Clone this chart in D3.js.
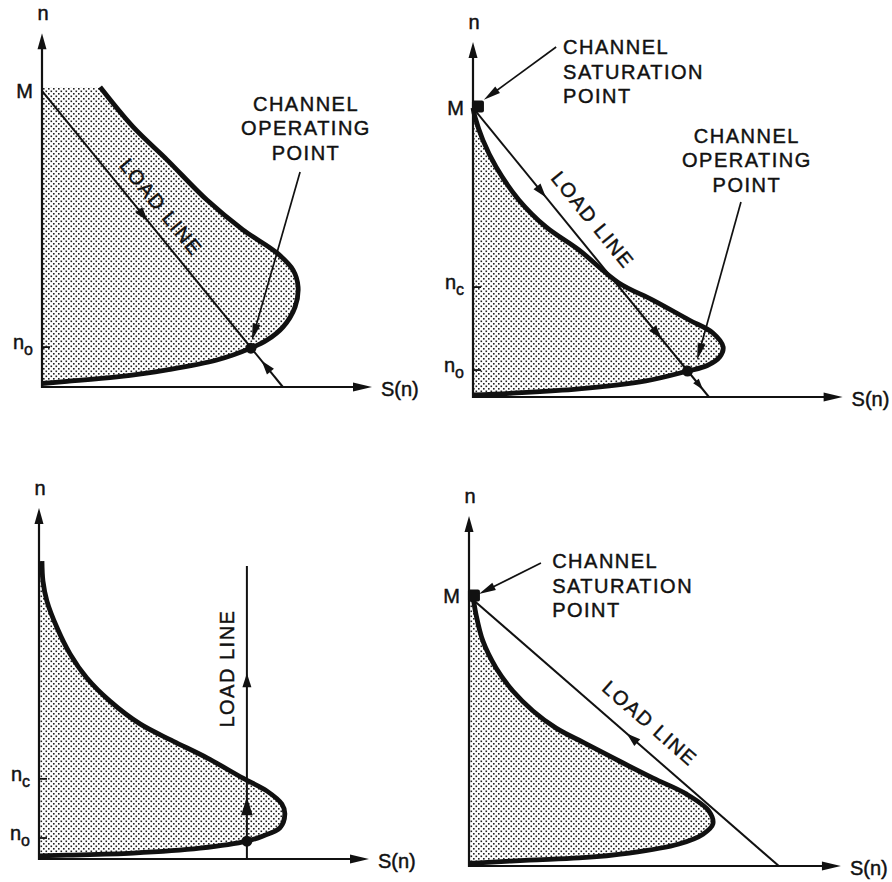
<!DOCTYPE html>
<html>
<head>
<meta charset="utf-8">
<script src="https://cdn.jsdelivr.net/npm/d3@7"></script>
<style>
  body { margin: 0; background: #fff; }
  svg text { font-family: "Liberation Sans", Arial, Helvetica, sans-serif; fill: #111; stroke: #111; stroke-width: 0.45px; }
</style>
</head>
<body>
<svg id="chart" width="892" height="882"></svg>
<script>
// ---- Supply curves S(n), as [S, n] pairs, one per case ----
const curveA = [[1.76,8.57],[2.76,7.43],[3.79,6.49],[5.0,5.34],[6.09,4.49],[7.12,3.83],[7.61,3.34],[7.76,2.86],[7.67,2.29],[7.30,1.71],[6.82,1.34],[6.33,1.11],[5.30,0.77],[3.79,0.49],[2.27,0.29],[0.76,0.16],[0,0.1]];
const curveB = [[0,8.26],[0.06,8.0],[0.30,7.34],[0.70,6.57],[1.39,5.63],[2.21,4.86],[3.21,4.2],[4.42,3.26],[5.45,2.77],[6.55,2.2],[7.27,1.83],[7.58,1.43],[7.48,1.15],[7.1,0.9],[6.5,0.74],[5.24,0.46],[3.21,0.23],[1.21,0.11],[0,0.06]];
const curveC = [[0.09,8.51],[0.12,7.94],[0.24,7.37],[0.55,6.6],[0.94,5.86],[1.45,5.17],[2.15,4.51],[3.06,3.86],[4.06,3.37],[5.09,2.89],[6.18,2.31],[6.91,1.94],[7.36,1.57],[7.45,1.29],[7.30,0.89],[6.79,0.66],[6.3,0.51],[4.88,0.31],[2.85,0.17],[0.85,0.11],[0,0.09]];
const curveD = [[0.12,7.71],[0.21,7.2],[0.42,6.43],[0.82,5.66],[1.33,5.0],[1.94,4.43],[2.64,3.94],[3.55,3.49],[4.55,3.0],[5.58,2.51],[6.58,2.06],[7.27,1.57],[7.39,1.2],[7.09,0.91],[6.36,0.63],[4.85,0.37],[3.33,0.23],[1.82,0.17],[0.3,0.09],[0,0.08]];

// ---- Load lines: start and end points [S, n] ----
const loadA = [[0,8.46],[7.3,0]];
const loadB = [[0,8.26],[7.15,0]];
const loadC = [[6.3,0],[6.3,8.37]];
const loadD = [[0,7.71],[9.39,0]];

// Direction arrows on each load line: [fraction along line, +1 forward / -1 backward, size]
const arrowsA = [[0.42,1,1],[0.93,-1,1]];
const arrowsB = [[0.29,1,1],[0.78,1,1],[0.96,1,0.8]];
const arrowsC = [[0.61,1,1],[0.18,1,1.3]];
const arrowsD = [[0.526,-1,1]];

// Axis extents [S max, n max]
const axisA = [10.0, 10.11];
const axisB = [11.2, 10.14];
const axisC = [10.0, 10.03];
const axisD = [11.27, 10.0];

// Marked levels on the n axis: [label, subscript, n, tick?]
const levelsA = [["M","",8.46,false],["n","o",1.14,true]];
const levelsB = [["M","",8.26,false],["n","c",3.14,true],["n","o",0.77,true]];
const levelsC = [["n","c",2.29,true],["n","o",0.6,true]];
const levelsD = [["M","",7.71,false]];

// Operating points and saturation points [S, n]
const opA = [[6.33,1.11]];
const opB = [[6.5,0.74]];
const opC = [[6.3,0.51]];
const opD = [];
const satA = [];
const satB = [[0.15,8.3]];
const satC = [];
const satD = [[0.15,7.73]];

// Callout labels: lines, anchor point [S, n], text-anchor, arrow from/to [S, n]
const operatingText = ["CHANNEL","OPERATING","POINT"];
const saturationText = ["CHANNEL","SATURATION","POINT"];
const calloutsA = [{lines:operatingText, at:[7.97,7.89], anchor:"middle", from:[7.82,6.14], to:[6.36,1.33]}];
const calloutsB = [
  {lines:saturationText, at:[2.73,9.8], anchor:"start", from:[2.52,10.0], to:[0.33,8.49]},
  {lines:operatingText, at:[8.27,7.26], anchor:"middle", from:[8.12,5.57], to:[6.79,1.06]}
];
const calloutsC = [];
const calloutsD = [{lines:saturationText, at:[2.52,8.51], anchor:"start", from:[2.18,8.66], to:[0.3,7.77]}];

// "LOAD LINE" label: fraction along line, offset from line (px)
const loadLabelA = [0.433, 19];
const loadLabelB = [0.435, 22];
const loadLabelC = [0.65, 20];
const loadLabelD = [0.535, 23];

// ---- Layout: the four panels ----
const panels = [
  {origin:[42,387], curve:curveA, load:loadA, arrows:arrowsA, axis:axisA, levels:levelsA, op:opA, sat:satA, callouts:calloutsA, loadLabel:loadLabelA},
  {origin:[473,397], curve:curveB, load:loadB, arrows:arrowsB, axis:axisB, levels:levelsB, op:opB, sat:satB, callouts:calloutsB, loadLabel:loadLabelB},
  {origin:[39,859], curve:curveC, load:loadC, arrows:arrowsC, axis:axisC, levels:levelsC, op:opC, sat:satC, callouts:calloutsC, loadLabel:loadLabelC},
  {origin:[469,866], curve:curveD, load:loadD, arrows:arrowsD, axis:axisD, levels:levelsD, op:opD, sat:satD, callouts:calloutsD, loadLabel:loadLabelD}
];
const unitX = 33, unitY = 35;

const svg = d3.select("#chart");
const defs = svg.append("defs");
const pat = defs.append("pattern").attr("id","stipple")
  .attr("patternUnits","userSpaceOnUse").attr("width",5).attr("height",5);
pat.append("rect").attr("x",0.5).attr("y",0.5).attr("width",1.6).attr("height",1.6).attr("fill","#222");
pat.append("rect").attr("x",3).attr("y",3).attr("width",1.6).attr("height",1.6).attr("fill","#222");

function triangle(g, tip, dir, len, wid) {
  const [dx, dy] = dir, px = -dy, py = dx;
  const bx = tip[0] - dx*len, by = tip[1] - dy*len;
  g.append("path")
    .attr("d", `M${tip[0]},${tip[1]}L${bx+px*wid/2},${by+py*wid/2}L${bx-px*wid/2},${by-py*wid/2}Z`)
    .attr("fill","#111");
}

panels.forEach(p => {
  const [ox, oy] = p.origin;
  const x = d3.scaleLinear().domain([0,10]).range([ox, ox + 10*unitX]);
  const y = d3.scaleLinear().domain([0,10]).range([oy, oy - 10*unitY]);
  const g = svg.append("g");
  const pt = d => [x(d[0]), y(d[1])];

  // shaded region between the n axis and the supply curve
  const line = d3.line().x(d => x(d[0])).y(d => y(d[1])).curve(d3.curveCatmullRom.alpha(0.5));
  const first = p.curve[0], last = p.curve[p.curve.length-1];
  const fillPath = line(p.curve) + `L${x(0)},${y(last[1])}L${x(0)},${y(first[1])}Z`;
  g.append("path").attr("d", fillPath).attr("fill","url(#stipple)");

  // axes
  const [sMax, nMax] = p.axis;
  g.append("line").attr("x1",x(0)-1).attr("y1",y(0)).attr("x2",x(sMax)-14).attr("y2",y(0))
    .attr("stroke","#111").attr("stroke-width",2.2);
  g.append("line").attr("x1",x(0)).attr("y1",y(0)+1).attr("x2",x(0)).attr("y2",y(nMax)+12)
    .attr("stroke","#111").attr("stroke-width",2.2);
  triangle(g, [x(sMax), y(0)], [1,0], 19, 9);
  triangle(g, [x(0), y(nMax)], [0,-1], 16, 9);

  g.append("text").attr("x", x(0)+1).attr("y", y(nMax)-13).attr("text-anchor","middle")
    .attr("font-size",20).text("n");
  g.append("text").attr("x", x(sMax)+9).attr("y", y(0)+9).attr("font-size",20).text("S(n)");

  // level labels and ticks
  p.levels.forEach(([lab, sub, n, tick]) => {
    const t = g.append("text").attr("x", x(0)-9).attr("y", y(n)+ (sub ? 2 : 7))
      .attr("text-anchor","end").attr("font-size",20);
    t.append("tspan").text(lab);
    if (sub) t.append("tspan").attr("dy",6).attr("font-size",16).text(sub);
    if (tick) g.append("line").attr("x1",x(0)).attr("x2",x(0)+8).attr("y1",y(n)).attr("y2",y(n))
      .attr("stroke","#111").attr("stroke-width",1.8);
  });

  // load line
  const a = pt(p.load[0]), b = pt(p.load[1]);
  const L = Math.hypot(b[0]-a[0], b[1]-a[1]);
  const u = [(b[0]-a[0])/L, (b[1]-a[1])/L];
  g.append("line").attr("x1",a[0]).attr("y1",a[1]).attr("x2",b[0]).attr("y2",b[1])
    .attr("stroke","#111").attr("stroke-width",2);
  p.arrows.forEach(([t, dir, s]) => {
    const c = [a[0]+u[0]*L*t, a[1]+u[1]*L*t];
    const d = [u[0]*dir, u[1]*dir];
    triangle(g, [c[0]+d[0]*7*s, c[1]+d[1]*7*s], d, 14*s, 9*s);
  });

  // supply curve
  g.append("path").attr("d", line(p.curve)).attr("fill","none")
    .attr("stroke","#111").attr("stroke-width",4.8).attr("stroke-linejoin","round");

  // operating and saturation points
  p.op.forEach(d => g.append("circle").attr("cx",x(d[0])).attr("cy",y(d[1])).attr("r",5.5).attr("fill","#111"));
  p.sat.forEach(d => g.append("rect").attr("x",x(d[0])-6).attr("y",y(d[1])-6).attr("width",12).attr("height",12)
    .attr("rx",2).attr("fill","#111"));

  // LOAD LINE label along the line
  const [lt, loff] = p.loadLabel;
  const up = [u[1], -u[0]];
  const lc = [a[0]+u[0]*L*lt + up[0]*loff, a[1]+u[1]*L*lt + up[1]*loff];
  const ang = Math.atan2(u[1], u[0]) * 180 / Math.PI;
  g.append("text").attr("transform", `translate(${lc[0]},${lc[1]}) rotate(${ang})`)
    .attr("text-anchor","middle").attr("dominant-baseline","central")
    .attr("font-size",20).attr("letter-spacing",1.5).text("LOAD LINE");

  // callouts
  p.callouts.forEach(c => {
    const t = g.append("text").attr("x", x(c.at[0])).attr("y", y(c.at[1]))
      .attr("text-anchor", c.anchor).attr("font-size",20).attr("letter-spacing",1.5);
    c.lines.forEach((s, i) => t.append("tspan").attr("x", x(c.at[0]) + (c.anchor === "middle" ? 1 : 0))
      .attr("dy", i ? 24.5 : 0).text(s));
    const f = pt(c.from), e = pt(c.to);
    const len = Math.hypot(e[0]-f[0], e[1]-f[1]);
    const v = [(e[0]-f[0])/len, (e[1]-f[1])/len];
    g.append("line").attr("x1",f[0]).attr("y1",f[1]).attr("x2",e[0]-v[0]*10).attr("y2",e[1]-v[1]*10)
      .attr("stroke","#111").attr("stroke-width",1.7);
    triangle(g, e, v, 17, 8);
  });
});
</script>
</body>
</html>
